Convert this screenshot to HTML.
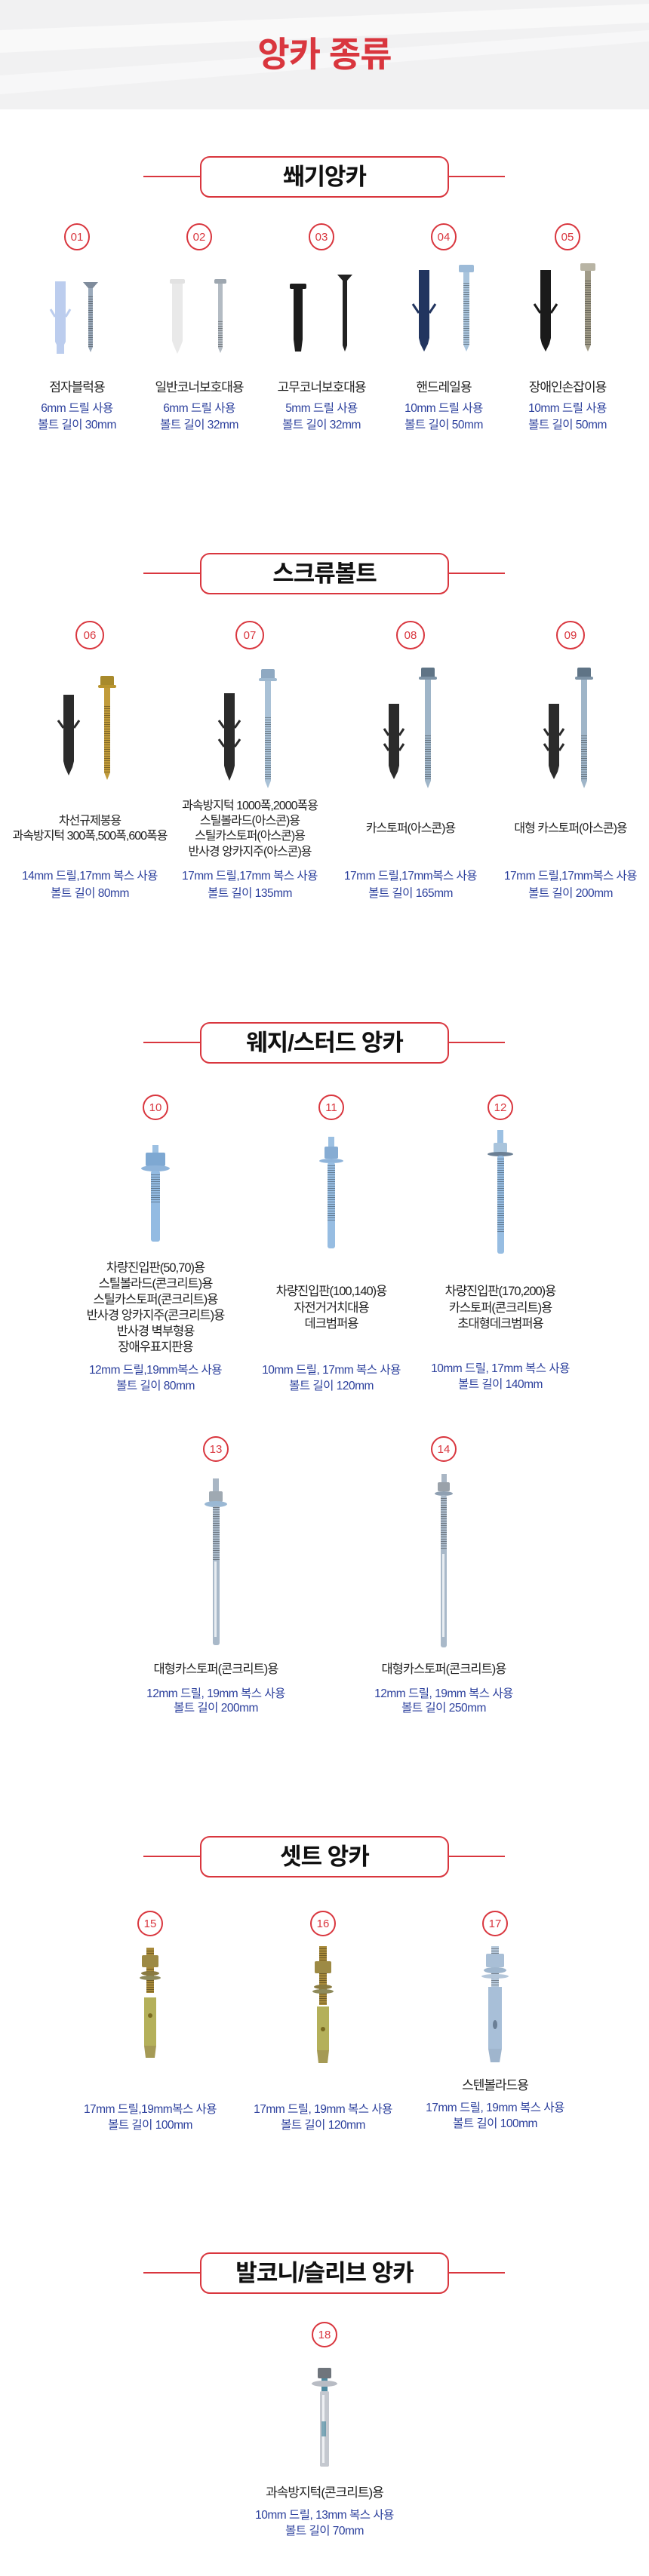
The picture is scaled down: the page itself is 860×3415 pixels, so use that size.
<!DOCTYPE html>
<html><head><meta charset="utf-8"><style>
html,body{margin:0;padding:0;background:#fff}
svg{display:block}
.t{font-family:"Liberation Sans","Noto Sans CJK KR",sans-serif}
.nm{font-size:17px;fill:#222;letter-spacing:-1px}
.bl{font-size:15.5px;fill:#2b3f9c;letter-spacing:-0.5px}
.hd{font-size:31px;font-weight:bold;fill:#111;letter-spacing:-1px}
.cn{font-size:15px;fill:#d9363e}
</style></head><body>
<svg width="860" height="3415" viewBox="0 0 860 3415" xmlns="http://www.w3.org/2000/svg">
<defs>
<pattern id="thr" width="4" height="3" patternUnits="userSpaceOnUse"><rect width="4" height="1" fill="#000" opacity="0.35"/></pattern>
</defs>
<!-- header -->
<rect x="0" y="0" width="860" height="145" fill="#f1f1f2"/>
<polygon points="0,40 860,5 860,30 0,70" fill="#fff" opacity="0.55"/>
<polygon points="0,100 860,40 860,55 0,125" fill="#fff" opacity="0.45"/>
<text x="430" y="88" text-anchor="middle" class="t" style="font-size:46px;font-weight:bold;fill:#d9363e;letter-spacing:-1px">앙카 종류</text>

<!-- section headers -->
<g stroke="#d9363e" stroke-width="2" fill="#fff">
<line x1="190" y1="234" x2="266" y2="234"/><line x1="594" y1="234" x2="669" y2="234"/><rect x="266" y="208" width="328" height="53" rx="12"/>
<line x1="190" y1="760" x2="266" y2="760"/><line x1="594" y1="760" x2="669" y2="760"/><rect x="266" y="734" width="328" height="53" rx="12"/>
<line x1="190" y1="1382" x2="266" y2="1382"/><line x1="594" y1="1382" x2="669" y2="1382"/><rect x="266" y="1356" width="328" height="53" rx="12"/>
<line x1="190" y1="2461" x2="266" y2="2461"/><line x1="594" y1="2461" x2="669" y2="2461"/><rect x="266" y="2435" width="328" height="53" rx="12"/>
<line x1="190" y1="3013" x2="266" y2="3013"/><line x1="594" y1="3013" x2="669" y2="3013"/><rect x="266" y="2987" width="328" height="53" rx="12"/>
</g>
<g class="t hd" text-anchor="middle">
<text x="430" y="245">쐐기앙카</text>
<text x="430" y="771">스크류볼트</text>
<text x="430" y="1393">웨지/스터드 앙카</text>
<text x="430" y="2472">셋트 앙카</text>
<text x="430" y="3024">발코니/슬리브 앙카</text>
</g>

<!-- number circles -->
<g fill="none" stroke="#d9363e" stroke-width="2">
<ellipse cx="102" cy="314" rx="16" ry="17"/><ellipse cx="264" cy="314" rx="16" ry="17"/><ellipse cx="426" cy="314" rx="16" ry="17"/><ellipse cx="588" cy="314" rx="16" ry="17"/><ellipse cx="752" cy="314" rx="16" ry="17"/>
<ellipse cx="119" cy="842" rx="18" ry="18"/><ellipse cx="331" cy="842" rx="18" ry="18"/><ellipse cx="544" cy="842" rx="18" ry="18"/><ellipse cx="756" cy="842" rx="18" ry="18"/>
<ellipse cx="206" cy="1468" rx="16" ry="16"/><ellipse cx="439" cy="1468" rx="16" ry="16"/><ellipse cx="663" cy="1468" rx="16" ry="16"/>
<ellipse cx="286" cy="1921" rx="16" ry="16"/><ellipse cx="588" cy="1921" rx="16" ry="16"/>
<ellipse cx="199" cy="2550" rx="16" ry="16"/><ellipse cx="428" cy="2550" rx="16" ry="16"/><ellipse cx="656" cy="2550" rx="16" ry="16"/>
<ellipse cx="430" cy="3095" rx="16" ry="16"/>
</g>
<g class="t cn" text-anchor="middle">
<text x="102" y="319">01</text><text x="264" y="319">02</text><text x="426" y="319">03</text><text x="588" y="319">04</text><text x="752" y="319">05</text>
<text x="119" y="847">06</text><text x="331" y="847">07</text><text x="544" y="847">08</text><text x="756" y="847">09</text>
<text x="206" y="1473">10</text><text x="439" y="1473">11</text><text x="663" y="1473">12</text>
<text x="286" y="1926">13</text><text x="588" y="1926">14</text>
<text x="199" y="2555">15</text><text x="428" y="2555">16</text><text x="656" y="2555">17</text>
<text x="430" y="3100">18</text>
</g>

<!-- section 1 objects -->
<!-- plugs: body, tip, fins -->
<g>
<path d="M73,373h14v80l-2,4v12h-10v-12l-2,-4z" fill="#bccdee"/><path d="M73,420l-6,-10M87,420l6,-10" stroke="#bccdee" stroke-width="3"/>
<path d="M228,370h14v82l-3,8l-4,9l-4,-9l-3,-8z" fill="#e9e9e9"/><rect x="225" y="370" width="20" height="6" rx="2" fill="#e2e2e2"/>
<path d="M389,380h12v70l-2,16h-8l-2,-16z" fill="#1c1c1c"/><rect x="384" y="376" width="22" height="7" rx="2" fill="#1c1c1c"/>
<path d="M555,358h14v90l-2,8l-5,10l-5,-10l-2,-8z" fill="#22355f"/><path d="M555,415l-8,-12M569,415l8,-12" stroke="#22355f" stroke-width="3"/>
<path d="M716,358h14v90l-2,8l-5,10l-5,-10l-2,-8z" fill="#1a1a1a"/><path d="M716,415l-8,-12M730,415l8,-12" stroke="#1a1a1a" stroke-width="3"/>
</g>
<!-- screws -->
<g>
<polygon points="110,374 130,374 123,382 117,382" fill="#7f8c9c"/><rect x="117" y="382" width="6" height="78" fill="#9aa9ba"/><polygon points="117,460 123,460 120,467" fill="#9aa9ba"/><rect x="117" y="392" width="6" height="68" fill="url(#thr)"/>
<rect x="284" y="370" width="16" height="6" rx="2" fill="#9ea7b0"/><rect x="289" y="376" width="6" height="85" fill="#b3bbc3"/><polygon points="289,461 295,461 292,468" fill="#b3bbc3"/><rect x="289" y="425" width="6" height="36" fill="url(#thr)"/>
<polygon points="447,364 467,364 460,372 454,372" fill="#222"/><rect x="454" y="372" width="6" height="86" fill="#222"/><polygon points="454,458 460,458 457,466" fill="#222"/>
<rect x="608" y="351" width="20" height="10" rx="2" fill="#9dbbd8"/><rect x="614" y="361" width="8" height="96" fill="#a9c4dc"/><polygon points="614,457 622,457 618,466" fill="#a9c4dc"/><rect x="614" y="375" width="8" height="82" fill="url(#thr)"/>
<rect x="769" y="349" width="20" height="10" rx="2" fill="#b8b4a4"/><rect x="775" y="359" width="8" height="98" fill="#a09b88"/><polygon points="775,457 783,457 779,466" fill="#a09b88"/><rect x="775" y="372" width="8" height="85" fill="url(#thr)"/>
</g>
<g class="t nm" text-anchor="middle">
<text x="102" y="519">점자블럭용</text><text x="264" y="519">일반코너보호대용</text><text x="426" y="519">고무코너보호대용</text><text x="588" y="519">핸드레일용</text><text x="752" y="519">장애인손잡이용</text>
</g>
<g class="t bl" text-anchor="middle">
<text x="102" y="546">6mm 드릴 사용</text><text x="264" y="546">6mm 드릴 사용</text><text x="426" y="546">5mm 드릴 사용</text><text x="588" y="546">10mm 드릴 사용</text><text x="752" y="546">10mm 드릴 사용</text>
<text x="102" y="568">볼트 길이 30mm</text><text x="264" y="568">볼트 길이 32mm</text><text x="426" y="568">볼트 길이 32mm</text><text x="588" y="568">볼트 길이 50mm</text><text x="752" y="568">볼트 길이 50mm</text>
</g>

<!-- section 2 objects -->
<g fill="#2b2b2b">
<path d="M84,921h14v88l-2,8l-5,11l-5,-11l-2,-8z"/><path d="M84,965l-7,-10M98,965l7,-10" stroke="#2b2b2b" stroke-width="3"/>
<path d="M297,919h14v96l-2,8l-5,12l-5,-12l-2,-8z"/><path d="M297,965l-7,-10M311,965l7,-10M297,990l-7,-10M311,990l7,-10" stroke="#2b2b2b" stroke-width="3"/>
<path d="M515,933h14v82l-2,8l-5,10l-5,-10l-2,-8z"/><path d="M515,975l-6,-9M529,975l6,-9M515,995l-6,-9M529,995l6,-9" stroke="#2b2b2b" stroke-width="3"/>
<path d="M727,933h14v82l-2,8l-5,10l-5,-10l-2,-8z"/><path d="M727,975l-6,-9M741,975l6,-9M727,995l-6,-9M741,995l6,-9" stroke="#2b2b2b" stroke-width="3"/>
</g>
<g>
<rect x="133" y="896" width="18" height="14" rx="2" fill="#a88a2c"/><rect x="130" y="908" width="24" height="4" rx="2" fill="#b9952f"/><rect x="138" y="912" width="8" height="112" fill="#c19b3a"/><polygon points="138,1024 146,1024 142,1034" fill="#c19b3a"/><rect x="138" y="935" width="8" height="89" fill="url(#thr)"/>
<rect x="346" y="887" width="18" height="14" rx="2" fill="#8fa9c2"/><rect x="343" y="899" width="24" height="4" rx="2" fill="#9fb9d0"/><rect x="351" y="903" width="8" height="132" fill="#a9c1d6"/><polygon points="351,1035 359,1035 355,1045" fill="#a9c1d6"/><rect x="351" y="950" width="8" height="85" fill="url(#thr)"/>
<rect x="558" y="885" width="18" height="14" rx="2" fill="#5f7486"/><rect x="555" y="897" width="24" height="4" rx="2" fill="#7d93a6"/><rect x="563" y="901" width="8" height="134" fill="#9fb5c8"/><polygon points="563,1035 571,1035 567,1045" fill="#9fb5c8"/><rect x="563" y="975" width="8" height="60" fill="url(#thr)"/>
<rect x="765" y="885" width="18" height="14" rx="2" fill="#5f7486"/><rect x="762" y="897" width="24" height="4" rx="2" fill="#7d93a6"/><rect x="770" y="901" width="8" height="134" fill="#9fb5c8"/><polygon points="770,1035 778,1035 774,1045" fill="#9fb5c8"/><rect x="770" y="975" width="8" height="60" fill="url(#thr)"/>
</g>
<g class="t nm" text-anchor="middle" style="font-size:16px">
<text x="119" y="1093">차선규제봉용</text><text x="119" y="1113">과속방지턱 300폭,500폭,600폭용</text>
<text x="331" y="1073">과속방지턱 1000폭,2000폭용</text><text x="331" y="1093">스틸볼라드(아스콘)용</text><text x="331" y="1113">스틸카스토퍼(아스콘)용</text><text x="331" y="1134">반사경 앙카지주(아스콘)용</text>
<text x="544" y="1103">카스토퍼(아스콘)용</text><text x="756" y="1103">대형 카스토퍼(아스콘)용</text>
</g>
<g class="t bl" text-anchor="middle">
<text x="119" y="1166">14mm 드릴,17mm 복스 사용</text><text x="331" y="1166">17mm 드릴,17mm 복스 사용</text><text x="544" y="1166">17mm 드릴,17mm복스 사용</text><text x="756" y="1166">17mm 드릴,17mm복스 사용</text>
<text x="119" y="1189">볼트 길이 80mm</text><text x="331" y="1189">볼트 길이 135mm</text><text x="544" y="1189">볼트 길이 165mm</text><text x="756" y="1189">볼트 길이 200mm</text>
</g>

<!-- section 3 objects -->
<g>
<rect x="202" y="1518" width="8" height="12" fill="#9cc0e2"/><rect x="193" y="1528" width="26" height="18" rx="2" fill="#7ea8d2"/><ellipse cx="206" cy="1549" rx="19" ry="4" fill="#8fb4da"/><rect x="200" y="1552" width="12" height="94" rx="3" fill="#93bbe2"/><rect x="200" y="1555" width="12" height="40" fill="url(#thr)"/>
<rect x="435" y="1507" width="8" height="14" fill="#9cc0e2"/><rect x="430" y="1520" width="18" height="16" rx="2" fill="#86acd3"/><ellipse cx="439" cy="1539" rx="16" ry="3" fill="#8fb4da"/><rect x="434" y="1541" width="10" height="114" rx="3" fill="#97bde2"/><rect x="434" y="1545" width="10" height="75" fill="url(#thr)"/>
<rect x="659" y="1498" width="8" height="22" fill="#9cc0e2"/><rect x="654" y="1515" width="18" height="13" rx="2" fill="#a9c4dc"/><ellipse cx="663" cy="1530" rx="17" ry="3" fill="#6b7f94"/><rect x="659" y="1532" width="9" height="130" rx="3" fill="#97bde2"/><rect x="659" y="1535" width="9" height="100" fill="url(#thr)"/>
<rect x="282" y="1960" width="8" height="20" fill="#a9b6c4"/><rect x="277" y="1977" width="18" height="14" rx="2" fill="#9fa9b2"/><ellipse cx="286" cy="1994" rx="15" ry="4" fill="#9ab8d4"/><rect x="282" y="1996" width="9" height="185" rx="3" fill="#a9b9c9"/><rect x="282" y="1998" width="9" height="70" fill="url(#thr)"/><rect x="284" y="2070" width="3" height="100" fill="#e8edf2"/>
<rect x="585" y="1954" width="7" height="12" fill="#a9b6c4"/><rect x="580" y="1965" width="16" height="12" rx="2" fill="#9aa2aa"/><ellipse cx="588" cy="1980" rx="12" ry="3" fill="#8fa0b2"/><rect x="584" y="1982" width="8" height="202" rx="3" fill="#a9b9c9"/><rect x="584" y="1984" width="8" height="70" fill="url(#thr)"/><rect x="586" y="2060" width="3" height="110" fill="#e8edf2"/>
</g>
<g class="t nm" text-anchor="middle" style="font-size:16.5px">
<text x="206" y="1686">차량진입판(50,70)용</text><text x="206" y="1707">스틸볼라드(콘크리트)용</text><text x="206" y="1728">스틸카스토퍼(콘크리트)용</text><text x="206" y="1749">반사경 앙카지주(콘크리트)용</text><text x="206" y="1770">반사경 벽부형용</text><text x="206" y="1791">장애우표지판용</text>
<text x="439" y="1717">차량진입판(100,140)용</text><text x="439" y="1739">자전거거치대용</text><text x="439" y="1760">데크범퍼용</text>
<text x="663" y="1717">차량진입판(170,200)용</text><text x="663" y="1739">카스토퍼(콘크리트)용</text><text x="663" y="1760">초대형데크범퍼용</text>
<text x="286" y="2218">대형카스토퍼(콘크리트)용</text><text x="588" y="2218">대형카스토퍼(콘크리트)용</text>
</g>
<g class="t bl" text-anchor="middle">
<text x="206" y="1821">12mm 드릴,19mm복스 사용</text><text x="439" y="1821">10mm 드릴, 17mm 복스 사용</text><text x="663" y="1819">10mm 드릴, 17mm 복스 사용</text>
<text x="206" y="1842">볼트 길이 80mm</text><text x="439" y="1842">볼트 길이 120mm</text><text x="663" y="1840">볼트 길이 140mm</text>
<text x="286" y="2250">12mm 드릴, 19mm 복스 사용</text><text x="588" y="2250">12mm 드릴, 19mm 복스 사용</text>
<text x="286" y="2269">볼트 길이 200mm</text><text x="588" y="2269">볼트 길이 250mm</text>
</g>

<!-- section 4 objects -->
<g>
<rect x="194" y="2582" width="10" height="60" fill="#a88a3a"/><rect x="194" y="2584" width="10" height="58" fill="url(#thr)"/><rect x="188" y="2592" width="22" height="16" rx="2" fill="#9d8a45"/><ellipse cx="199" cy="2616" rx="12" ry="3" fill="#8a7b40"/><ellipse cx="199" cy="2622" rx="14" ry="3" fill="#8e8a5a"/><rect x="191" y="2648" width="16" height="64" fill="#b4b05a"/><path d="M191,2712h16l-2,16h-12z" fill="#a59a55"/><circle cx="199" cy="2672" r="3" fill="#7a6a20"/>
<rect x="423" y="2580" width="10" height="78" fill="#a88a3a"/><rect x="423" y="2582" width="10" height="76" fill="url(#thr)"/><rect x="417" y="2600" width="22" height="16" rx="2" fill="#9d8a45"/><ellipse cx="428" cy="2634" rx="12" ry="3" fill="#8a7b40"/><ellipse cx="428" cy="2640" rx="14" ry="3" fill="#8e8a5a"/><rect x="420" y="2660" width="16" height="58" fill="#b4b05a"/><path d="M420,2718h16l-2,17h-12z" fill="#a59a55"/><circle cx="428" cy="2690" r="3" fill="#7a6a20"/>
<rect x="651" y="2580" width="10" height="60" fill="#b6c8da"/><rect x="651" y="2582" width="10" height="58" fill="url(#thr)"/><rect x="644" y="2590" width="24" height="18" rx="2" fill="#a9bfd6"/><ellipse cx="656" cy="2612" rx="15" ry="4" fill="#9fb6cd"/><ellipse cx="656" cy="2620" rx="18" ry="3" fill="#b5c7da"/><rect x="647" y="2634" width="18" height="82" fill="#a8bfd8"/><path d="M647,2716h18l-3,18h-12z" fill="#9fb5cd"/><ellipse cx="656" cy="2684" rx="3" ry="6" fill="#6a7f96"/>
</g>
<g class="t nm" text-anchor="middle"><text x="656" y="2770">스텐볼라드용</text></g>
<g class="t bl" text-anchor="middle">
<text x="199" y="2801">17mm 드릴,19mm복스 사용</text><text x="428" y="2801">17mm 드릴, 19mm 복스 사용</text><text x="656" y="2799">17mm 드릴, 19mm 복스 사용</text>
<text x="199" y="2822">볼트 길이 100mm</text><text x="428" y="2822">볼트 길이 120mm</text><text x="656" y="2820">볼트 길이 100mm</text>
</g>

<!-- section 5 object -->
<g>
<rect x="421" y="3139" width="18" height="14" rx="2" fill="#6f757c"/><rect x="426" y="3153" width="8" height="22" fill="#4f8aa0"/><ellipse cx="430" cy="3160" rx="17" ry="4" fill="#b8bcc4"/><rect x="424" y="3170" width="12" height="100" rx="2" fill="#c4c8cf"/><rect x="427" y="3175" width="3" height="90" fill="#eef0f3"/><rect x="426" y="3210" width="6" height="20" fill="#4f8aa0" opacity="0.7"/>
</g>
<g class="t nm" text-anchor="middle"><text x="430" y="3310">과속방지턱(콘크리트)용</text></g>
<g class="t bl" text-anchor="middle">
<text x="430" y="3339">10mm 드릴, 13mm 복스 사용</text>
<text x="430" y="3360">볼트 길이 70mm</text>
</g>
</svg>
</body></html>
